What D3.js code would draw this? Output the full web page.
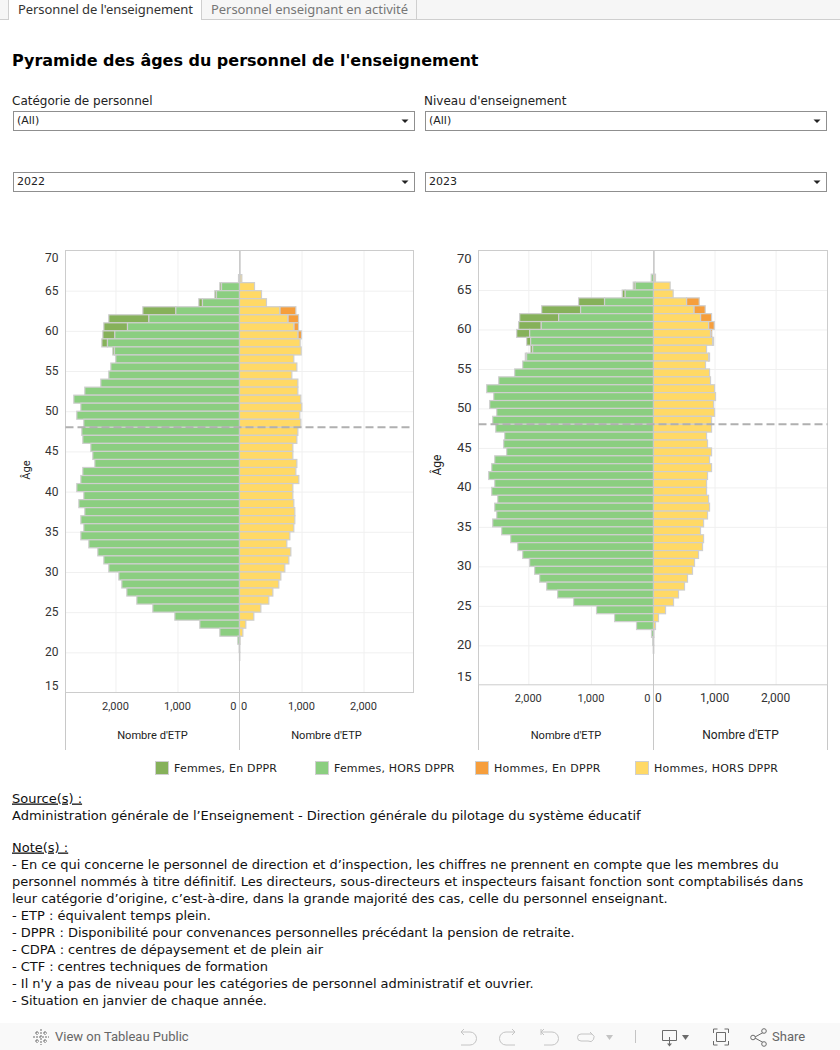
<!DOCTYPE html>
<html><head><meta charset="utf-8">
<script src="https://cdn.jsdelivr.net/npm/d3@7/dist/d3.min.js"></script>
<style>html,body{margin:0;padding:0;background:#fff;overflow:hidden}svg{display:block}text{white-space:pre}</style>
</head><body><svg id="c" width="840" height="1050"></svg>
<script>
const ages = d3.range(66, 18, -1);
// values listed from age 66 down to age 19
const femmesHors2022 = [16,290,371,597,1027,1462,1806,2011,2129,2016,1995,2075,2108,2237,2495,2672,2559,2624,2511,2543,2527,2398,2366,2333,2527,2559,2624,2511,2591,2495,2559,2511,2559,2430,2285,2188,2108,1946,1898,1817,1656,1398,1043,640,317,27,5,0];
const femmesDppr2022 = [0,27,27,59,532,646,382,193,91,27,0,0,0,0,0,0,0,0,0,0,0,0,0,0,0,0,0,0,0,0,0,0,0,0,0,0,0,0,0,0,0,0,0,0,0,0,0,0];
const hommesHors2022 = [38,242,355,435,650,780,876,941,978,995,876,925,844,941,941,989,1005,973,989,941,925,860,860,925,909,957,860,860,876,892,892,876,812,763,828,796,731,667,634,538,473,344,231,102,54,10,5,5];
const hommesDppr2022 = [0,0,0,0,259,172,76,59,0,0,0,0,0,0,0,0,0,0,0,0,0,0,0,0,0,0,0,0,0,0,0,0,0,0,0,0,0,0,0,0,0,0,0,0,0,0,0,0];
const femmesHors2023 = [37,293,452,782,1165,1516,1793,1979,1963,1931,2027,2090,2218,2473,2665,2553,2617,2505,2569,2521,2378,2394,2346,2537,2585,2633,2537,2585,2489,2537,2505,2569,2426,2282,2170,2090,1979,1899,1819,1707,1532,1277,910,622,271,32,12,3];
const femmesDppr2023 = [0,31,48,415,622,622,361,207,64,32,21,0,0,0,0,0,0,0,0,0,0,0,0,0,0,0,0,0,0,0,0,0,0,0,0,0,0,0,0,0,0,0,0,0,0,0,0,0];
const hommesHors2023 = [33,273,322,541,661,770,902,934,967,869,902,852,918,934,1000,1016,984,1000,951,951,869,885,951,918,951,885,869,869,902,918,885,820,770,820,803,738,672,639,557,508,410,328,197,82,33,8,4,4];
const hommesDppr2023 = [0,0,0,208,186,181,93,22,17,0,16,0,0,0,0,0,0,0,0,0,0,0,0,0,0,0,0,0,0,0,0,0,0,0,0,0,0,0,0,0,0,0,0,0,0,0,0,0];
const ageTicks = [15,20,25,30,35,40,45,50,55,60,65,70];
const etpTicks = [0,1000,2000];
const legendLabels = ["Femmes, En DPPR","Femmes, HORS DPPR","Hommes, En DPPR","Hommes, HORS DPPR"];
const colors = ["#86b15a","#8bce80","#f69e3c","#ffd966"];
const noteLines = [
 "- En ce qui concerne le personnel de direction et d’inspection, les chiffres ne prennent en compte que les membres du",
 "personnel nommés à titre définitif. Les directeurs, sous-directeurs et inspecteurs faisant fonction sont comptabilisés dans",
 "leur catégorie d’origine, c’est-à-dire, dans la grande majorité des cas, celle du personnel enseignant.",
 "- ETP : équivalent temps plein.",
 "- DPPR : Disponibilité pour convenances personnelles précédant la pension de retraite.",
 "- CDPA : centres de dépaysement et de plein air",
 "- CTF : centres techniques de formation",
 "- Il n'y a pas de niveau pour les catégories de personnel administratif et ouvrier.",
 "- Situation en janvier de chaque année."];
const noteWidths = [766.7,791.3,655.7,199,562.7,311,256,521.7,255];
const DJ = "'DejaVu Sans'", RB = "Roboto";
const svg = d3.select("#c");
function T(x,y,s,o={}){const t=svg.append("text").attr("x",x).attr("y",y).text(s)
  .attr("font-family",o.f||DJ).attr("font-size",o.s||12).attr("fill",o.c||"#1a1a1a")
  .attr("font-weight",o.w||null).attr("text-anchor",o.a||null);
  if(o.len) t.attr("textLength",o.len).attr("lengthAdjust","spacing");
  return t;}
function L(x1,y1,x2,y2,c,w){return svg.append("line").attr("x1",x1).attr("y1",y1).attr("x2",x2).attr("y2",y2).attr("stroke",c).attr("stroke-width",w||1);}

// tabs
svg.append("rect").attr("width",840).attr("height",20).attr("fill","#f6f6f6");
L(0,19.5,840,19.5,"#cfcfcf");
svg.append("rect").attr("x",9).attr("y",0).attr("width",192).attr("height",20).attr("fill","#fff");
L(8.5,0,8.5,20,"#cfcfcf"); L(201.5,0,201.5,20,"#cfcfcf"); L(416.5,0,416.5,20,"#cfcfcf");
T(18,14,"Personnel de l'enseignement",{f:"'Noto Sans'",s:13,c:"#333",len:175});
T(211,14,"Personnel enseignant en activité",{f:"'Noto Sans'",s:13,c:"#777",len:197});

T(12,65.5,"Pyramide des âges du personnel de l'enseignement",{s:16,w:"bold",c:"#000",len:466.5});
T(12,105,"Catégorie de personnel",{s:12,c:"#222"});
T(424,105,"Niveau d'enseignement",{s:12,c:"#222"});
[[13.5,111.5,"(All)"],[425.5,111.5,"(All)"],[13.5,172.5,"2022"],[425.5,172.5,"2023"]].forEach(([x,y,s])=>{
  svg.append("rect").attr("x",x).attr("y",y).attr("width",401).attr("height",19).attr("fill","#fff").attr("stroke","#8f8f8f");
  T(x+3.5,y+12.5,s,{s:11,c:"#222"});
  svg.append("path").attr("d",`M${x+388},${y+8}h7l-3.5,3.5z`).attr("fill","#222");
});

function panel(o){
  const y = d3.scaleLinear().domain([15,70]).range([o.bottom,o.top]);
  const xF = d3.scaleLinear().domain([0,o.fMax]).range([o.zero,o.left]);
  const xH = d3.scaleLinear().domain([0,o.hMax]).range([o.zero,o.right]);
  const g = svg.append("g");
  // grid
  const gy = g.append("g").attr("transform",`translate(${o.left},0)`)
    .call(d3.axisLeft(y).tickValues(ageTicks.filter(a=>a>15&&a<70)).tickSize(-(o.right-o.left)).tickFormat(""));
  gy.select(".domain").remove(); gy.selectAll("line").attr("stroke","#f0f0f0");
  [[xF,"F"],[xH,"H"]].forEach(([sc])=>{
    const gx = g.append("g").attr("transform",`translate(0,${o.bottom})`)
      .call(d3.axisTop(sc).tickValues(etpTicks.slice(1)).tickSize(o.bottom-o.top).tickFormat(""));
    gx.select(".domain").remove(); gx.selectAll("line").attr("stroke","#f0f0f0");
  });
  // frame
  g.append("rect").attr("x",o.left).attr("y",o.top).attr("width",o.right-o.left).attr("height",o.bottom-o.top)
    .attr("fill","none").attr("stroke","#cccccc");
  L(o.left,750,o.left,o.bottom,"#c8c8c8"); L(o.zero,750,o.zero,o.top,"#c8c8c8");
  if(o.rightDrop) L(o.right,750,o.right,o.bottom,"#c8c8c8");
  L(o.zero+.5,o.top,o.zero+.5,y(66),"#cccccc",1.5);
  // bars
  const rows = ages.map((a,i)=>({a,fh:o.fh[i],fd:o.fd[i],hh:o.hh[i],hd:o.hd[i]}));
  const bar=(x0,x1,a,c)=>{
    const rx=Math.min(x0,x1), w=Math.abs(x1-x0);
    g.append("rect").attr("x",rx).attr("y",y(a+1)).attr("width",w).attr("height",y(a)-y(a+1))
      .attr("fill",c).attr("stroke","#cfcfcf").attr("stroke-width",1.2);
  };
  rows.forEach(r=>{
    if(r.fd>0) bar(xF(r.fh),xF(r.fh+r.fd),r.a,colors[0]);
    if(r.fh>0) bar(xF(0),xF(r.fh),r.a,colors[1]);
    if(r.hd>0) bar(xH(r.hh),xH(r.hh+r.hd),r.a,colors[2]);
    if(r.hh>0) bar(xH(0),xH(r.hh),r.a,colors[3]);
  });
  // reference line
  L(o.left,y(48),o.right,y(48),"#b0b0b0",2).attr("stroke-dasharray","8 4");
  // age labels, clamped inside the pane as in the reference
  ageTicks.forEach(a=>{
    const yy = a==70?o.top+o.clamp : a==15?o.bottom-o.clamp : y(a);
    T(o.left-7,yy+4,a,{f:RB,s:o.ageS,c:"#333",a:"end"});
  });
  svg.append("text").attr("transform",`translate(${o.ageX},${o.ageY}) rotate(-90)`).text("Âge")
    .attr("font-family",RB).attr("font-size",o.titleS).attr("fill","#222").attr("text-anchor","middle");
  // ETP axes
  const fmt=d3.format(",");
  etpTicks.forEach(v=>{
    T(xF(v)+(v?0:-3),o.bottom+17.5,fmt(v),{f:RB,s:11,c:"#333",a:v?"middle":"end"});
    T(xH(v)+(v?0:1.5),o.bottom+17.5,fmt(v),{f:RB,s:o.hTickS,c:"#333",a:v?"middle":"start"});
  });
  T((o.left+o.zero)/2,738.5,"Nombre d'ETP",{f:RB,s:11.1,c:"#222",a:"middle"});
  T((o.zero+o.right)/2,738.5,"Nombre d'ETP",{f:RB,s:o.titleS,c:"#222",a:"middle"});
}
panel({top:250.5,bottom:692.5,left:65.5,right:413.5,zero:239.5,fMax:2806,hMax:2806,ageX:30,ageY:470,titleS:11.1,hTickS:11,ageS:12,clamp:7,
  fh:femmesHors2022,fd:femmesDppr2022,hh:hommesHors2022,hd:hommesDppr2022});
panel({top:250.5,bottom:684.8,left:478.5,right:827.5,zero:653.5,fMax:2796,hMax:2850,ageX:441,ageY:465,titleS:12,hTickS:12,ageS:13,clamp:8,rightDrop:true,
  fh:femmesHors2023,fd:femmesDppr2023,hh:hommesHors2023,hd:hommesDppr2023});

// legend
[155.5,315.5,475.5,635.5].forEach((x,i)=>{
  svg.append("rect").attr("x",x).attr("y",761.5).attr("width",13).attr("height",13)
    .attr("fill",colors[i]).attr("stroke","#d0d0d0");
  T(x+18.5,772,legendLabels[i],{s:11,c:"#222",len:[103,120.5,106.5,124][i]});
});

// notes
T(12,802.5,"Source(s) :",{s:13,c:"#111"}).attr("text-decoration","underline");
T(12,819.5,"Administration générale de l’Enseignement - Direction générale du pilotage du système éducatif",{s:13,c:"#111",len:628.7});
T(12,851.5,"Note(s) :",{s:13,c:"#111"}).attr("text-decoration","underline");
noteLines.forEach((s,i)=>T(12,868.5+i*17,s,{s:13,c:"#111",len:noteWidths[i]}));

// toolbar
svg.append("rect").attr("y",1023).attr("width",840).attr("height",27).attr("fill","#f9f9f9");
const ic="#6b6b6b", il="#c4c4c4";
const P=(d,c)=>svg.append("path").attr("d",d).attr("fill","none").attr("stroke",c).attr("stroke-width",1);
P("M41,1029v16M33,1037h16M37,1031v4M35,1033h4M45,1031v4M43,1033h4M37,1039v4M35,1041h4M45,1039v4M43,1041h4",ic).attr("stroke-dasharray","2 1");
T(55,1041,"View on Tableau Public",{f:RB,s:13,c:"#666"});
P("M461,1032h9a6.5,6.5 0 0 1 0,13h-9M461,1032l3,-3M461,1032l3,3",il);
P("M515,1032h-9a6.5,6.5 0 0 0 0,13h9M515,1032l-3,-3M515,1032l-3,3",il);
P("M541,1029v6M541,1032h11a6.5,6.5 0 0 1 0,13h-8M541,1032l3,-3M541,1032l3,3",il);
P("M592,1034h-11a3.5,3.5 0 0 0 0,7h7a3.5,3.5 0 0 0 4,-7M592,1034l-2,-2",il);
svg.append("path").attr("d","M606,1035h7l-3.5,5z").attr("fill",il);
L(635.5,1030,635.5,1043,il);
P("M662.5,1030.5h14v10h-14zM669.5,1037v9",ic);
svg.append("path").attr("d","M667,1043.5h5l-2.5,3z").attr("fill",ic);
svg.append("path").attr("d","M682,1035h7l-3.5,5z").attr("fill",ic);
P("M713.5,1033v-4h4M724.5,1029h4v4M728.5,1041v4h-4M717.5,1045h-4v-4M716.5,1032.5h9v9h-9z",ic);
P("M755,1037l9,-5M755,1038l9,5",ic);
[[753,1037.5],[764,1031],[764,1044]].forEach(([x,y])=>svg.append("circle").attr("cx",x).attr("cy",y).attr("r",2.3).attr("fill","#f9f9f9").attr("stroke",ic));
T(772,1041,"Share",{f:RB,s:13,c:"#666"});
</script></body></html>
